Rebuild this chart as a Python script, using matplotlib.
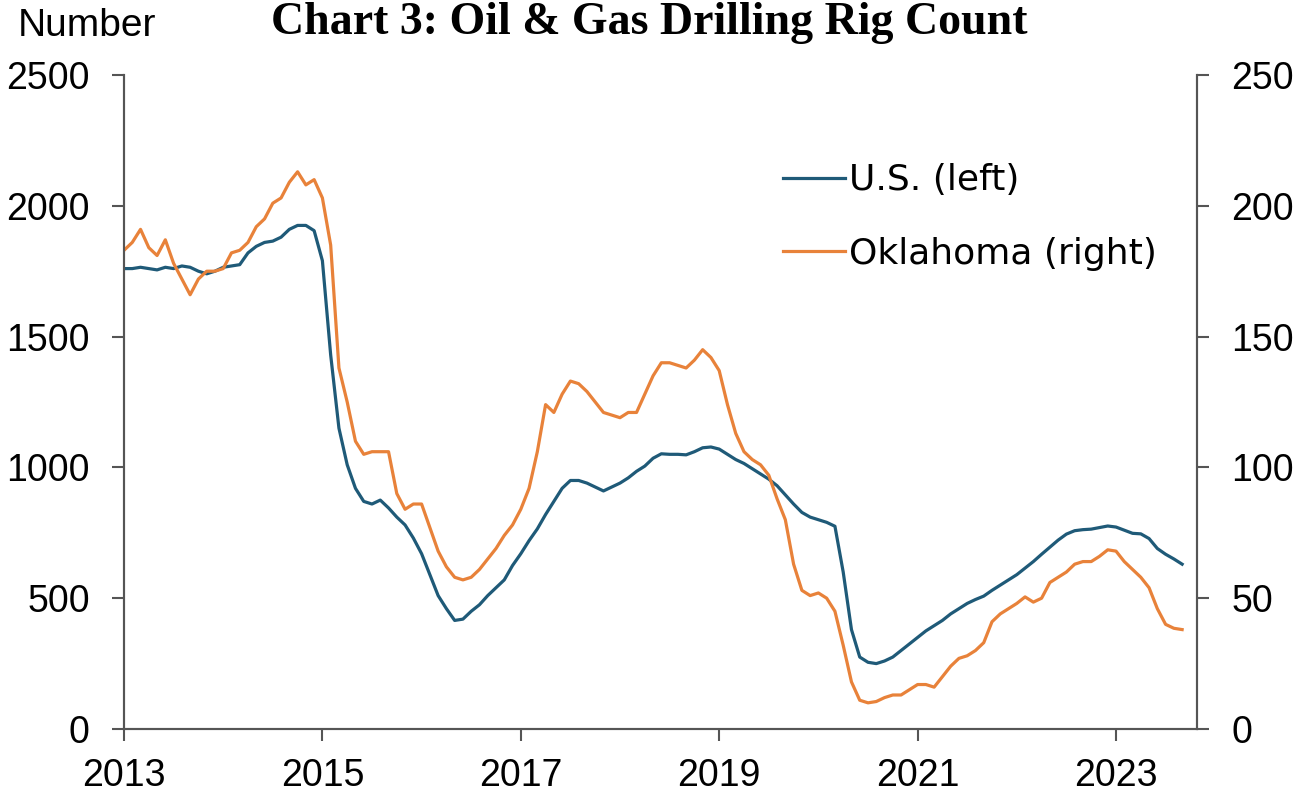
import numpy as np
import pandas as pd
import matplotlib
matplotlib.use("Agg")
import matplotlib.pyplot as plt

# monthly rig counts, Jan 2013 - Sep 2023
us_rigs = [
    1760, 1760, 1765, 1760, 1755, 1765, 1760, 1770, 1765, 1750, 1740, 1750,
    1765, 1770, 1775, 1820, 1845, 1860, 1865, 1880, 1910, 1925, 1925, 1905,
    1790, 1430, 1150, 1010, 920, 870, 860, 875, 845, 810, 780, 730,
    670, 590, 510, 460, 415, 420, 450, 475, 510, 540, 570, 625,
    670, 720, 765, 820, 870, 920, 950, 950, 940, 925, 910, 925,
    940, 960, 985, 1005, 1035, 1052, 1050, 1050, 1048, 1060, 1075, 1078,
    1070, 1050, 1030, 1015, 995, 975, 955, 930, 895, 860, 828, 810,
    800, 790, 775, 600, 380, 275, 255, 250, 260, 275, 300, 325,
    350, 375, 395, 415, 440, 460, 480, 495, 508, 530, 550, 570,
    590, 615, 640, 668, 695, 722, 745, 758, 762, 764, 770, 776,
    772, 760, 748, 746, 728, 690, 668, 650, 630,
]
ok_rigs = [
    183, 186, 191, 184, 181, 187, 178, 172, 166, 172, 175, 175,
    176, 182, 183, 186, 192, 195, 201, 203, 209, 213, 208, 210,
    203, 185, 138, 125, 110, 105, 106, 106, 106, 90, 84, 86,
    86, 77, 68, 62, 58, 57, 58, 61, 65, 69, 74, 78,
    84, 92, 106, 124, 121, 128, 133, 132, 129, 125, 121, 120,
    119, 121, 121, 128, 135, 140, 140, 139, 138, 141, 145, 142,
    137, 124, 113, 106, 103, 101, 97, 88, 80, 63, 53, 51,
    52, 50, 45, 32, 18, 11, 10, 10.5, 12, 13, 13, 15,
    17, 17, 16, 20, 24, 27, 28, 30, 33, 41, 44, 46,
    48, 50.5, 48.5, 50, 56, 58, 60, 63, 64, 64, 66, 68.5,
    68, 64, 61, 58, 54, 46, 40, 38.5, 38,
]
dates = pd.date_range("2013-01-01", periods=len(us_rigs), freq="MS")
x = dates.year + (dates.month - 1) / 12

year_ticks = [2013, 2015, 2017, 2019, 2021, 2023]
left_ticks = [0, 500, 1000, 1500, 2000, 2500]
right_ticks = [0, 50, 100, 150, 200, 250]

tick_font = "Liberation Sans"
blue = "#1f5a78"
orange = "#e8823a"

fig = plt.figure(figsize=(12.99, 8), dpi=100)
ax = fig.add_axes([124 / 1299, 1 - 729 / 800, (1197 - 124) / 1299, (729 - 75) / 800])
ax2 = ax.twinx()

l1, = ax.plot(x, us_rigs, color=blue, lw=2.3, label="U.S. (left)", zorder=3)
l2, = ax2.plot(x, ok_rigs, color=orange, lw=2.3, label="Oklahoma (right)", zorder=2)

ax.set_xlim(2013, 2013 + (1197 - 124) / 99.2)
ax.set_ylim(0, 2500)
ax2.set_ylim(0, 250)
ax.set_xticks(year_ticks)
ax.set_yticks(left_ticks)
ax2.set_yticks(right_ticks)

for a in (ax, ax2):
    a.spines["top"].set_visible(False)
    for s in a.spines.values():
        s.set_color("#555555")
        s.set_linewidth(1.5)
    a.tick_params(length=8.6, width=1.5, color="#555555", labelsize=27, pad=16)
    for lab in a.get_xticklabels() + a.get_yticklabels():
        lab.set_fontfamily(tick_font)
ax.tick_params(axis="x", pad=12)

fig.text(18 / 1299, 1 - 36 / 800, "Number", fontsize=28, family=tick_font, va="baseline")
fig.text(0.5, 1 - 2 / 800, "Chart 3: Oil & Gas Drilling Rig Count", fontsize=33,
         family="Liberation Serif", weight="bold", ha="center", va="top")

fig.legend(handles=[l1, l2], loc="center left", bbox_to_anchor=(783 / 1299, 1 - 217 / 800),
           frameon=False, fontsize=26, handlelength=1.72, handletextpad=0.1,
           labelspacing=1.1, borderpad=0, borderaxespad=0)

fig.savefig("out.png", dpi=100)
